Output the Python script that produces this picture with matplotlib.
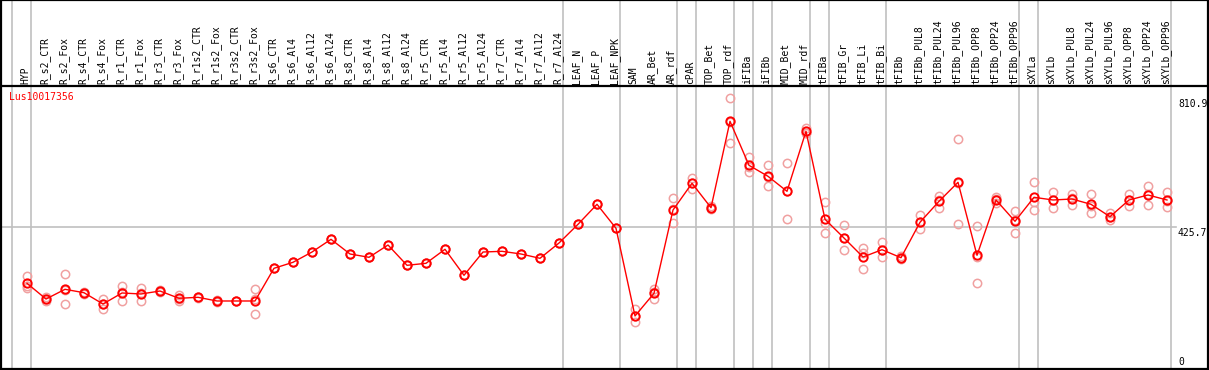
import numpy as np
import matplotlib
matplotlib.use("Agg")
import matplotlib.pyplot as plt
import matplotlib.transforms as mtransforms

# ---------------- data ----------------
gene = "Lus10017356"
samples = ["HYP", "R_s2_CTR", "R_s2_Fox", "R_s4_CTR", "R_s4_Fox", "R_r1_CTR", "R_r1_Fox",
           "R_r3_CTR", "R_r3_Fox", "R_r1s2_CTR", "R_r1s2_Fox", "R_r3s2_CTR", "R_r3s2_Fox",
           "R_s6_CTR", "R_s6_Al4", "R_s6_Al12", "R_s6_Al24", "R_s8_CTR", "R_s8_Al4",
           "R_s8_Al12", "R_s8_Al24", "R_r5_CTR", "R_r5_Al4", "R_r5_Al12", "R_r5_Al24",
           "R_r7_CTR", "R_r7_Al4", "R_r7_Al12", "R_r7_Al24", "LEAF_N", "LEAF_P", "LEAF_NPK",
           "SAM", "AR_Bet", "AR_rdf", "cPAR", "TOP_Bet", "TOP_rdf", "iFIBa", "iFIBb",
           "MID_Bet", "MID_rdf", "tFIBa", "tFIB_Gr", "tFIB_Li", "tFIB_Bi", "tFIBb",
           "tFIBb_PUL8", "tFIBb_PUL24", "tFIBb_PUL96", "tFIBb_OPP8", "tFIBb_OPP24",
           "tFIBb_OPP96", "sXYLa", "sXYLb", "sXYLb_PUL8", "sXYLb_PUL24", "sXYLb_PUL96",
           "sXYLb_OPP8", "sXYLb_OPP24", "sXYLb_OPP96"]
group_sizes = [1, 28, 3, 3, 1, 2, 1, 1, 2, 1, 3, 7, 1, 7]

means = [258.8, 211.9, 240.9, 230.7, 197.0, 229.9, 226.9, 235.8, 214.0, 217.0,
         206.0, 206.0, 206.0, 303.6, 321.5, 352.2, 390.1, 346.3, 336.4, 373.1,
         312.5, 318.5, 360.3, 282.7, 352.2, 354.3, 346.3, 333.4, 379.1, 434.9,
         494.6, 423.0, 161.2, 229.0, 477.6, 557.3, 484.5, 742.4, 611.0, 578.2,
         533.4, 712.5, 449.9, 394.0, 337.3, 359.1, 335.2, 440.9, 503.6, 560.3,
         342.4, 507.5, 443.9, 515.5, 507.5, 510.4, 494.6, 457.6, 507.5, 522.4,
         507.5]

rep1 = [280.6, 218.0, 286.6, 233.0, 211.9, 250.7, 244.8, 238.0, 223.0, 219.0,
        208.0, 207.0, 240.9, 303.6, 321.5, 352.2, 390.1, 346.3, 336.4, 373.1,
        312.5, 318.5, 360.3, 282.7, 352.2, 354.3, 346.3, 333.4, 379.1, 434.9,
        494.6, 423.0, 181.2, 240.9, 512.5, 572.2, 480.0, 810.9, 635.8, 611.0,
        617.0, 723.3, 500.6, 431.9, 363.3, 381.2, 339.0, 461.8, 519.4, 688.7,
        429.9, 515.5, 474.6, 560.3, 531.3, 525.4, 525.4, 467.8, 525.4, 549.3,
        531.3]
rep2 = [250.7, 211.0, 197.0, 228.0, 181.2, 206.9, 205.1, 234.0, 212.0, 215.0,
        204.0, 205.0, 166.3, 303.6, 321.5, 352.2, 390.1, 346.3, 336.4, 373.1,
        312.5, 318.5, 360.3, 282.7, 352.2, 354.3, 346.3, 333.4, 379.1, 434.9,
        494.6, 423.0, 142.4, 211.9, 439.7, 541.2, 489.0, 676.7, 590.1, 548.4,
        449.9, 706.6, 439.7, 357.3, 300.6, 338.2, 332.0, 420.0, 484.5, 434.9,
        258.8, 497.6, 409.9, 502.4, 482.7, 491.6, 467.8, 447.8, 489.6, 491.6,
        485.7]
rep3 = [244.8, 207.0, 239.1, 231.0, 197.9, 232.0, 230.8, 235.0, 207.0, 217.0,
        206.0, 206.0, 210.8, 303.6, 321.5, 352.2, 390.1, 346.3, 336.4, 373.1,
        312.5, 318.5, 360.3, 282.7, 352.2, 354.3, 346.3, 333.4, 379.1, 434.9,
        494.6, 423.0, 160.0, 234.0, 480.6, 558.5, 484.0, 739.6, 607.0, 575.2,
        533.3, 707.7, 409.9, 392.9, 348.0, 358.0, 335.0, 441.0, 506.9, 557.3,
        338.5, 509.4, 447.2, 476.7, 508.5, 514.2, 490.6, 457.2, 507.5, 526.3,
        505.5]

ytick_vals = [0, 425.7, 810.9]
ytick_labels = ["0", "425.7", "810.9"]

# ---------------- layout ----------------
W, H = 1209, 370
fig = plt.figure(figsize=(W / 100, H / 100), dpi=100)
ax = fig.add_axes([0, 0, 1, 1])
ax.set_axis_off()

px_per_col = 19.0
x0_px = 27.0
px_per_unit = 0.335
ax.set_xlim(-x0_px / px_per_col, (W - x0_px) / px_per_col)
ax.set_ylim(0, H / px_per_unit)

n = len(samples)
x = np.arange(n)

mono = "DejaVu Sans Mono"
hdr_frac = 1 - 85.5 / H
bt = mtransforms.blended_transform_factory(ax.transData, ax.transAxes)

# frame
frame_kw = dict(color="black", lw=1.6, transform=ax.transAxes, clip_on=False)
ax.plot([0.001, 0.999], [hdr_frac, hdr_frac], **frame_kw, zorder=5)
ax.plot([0.001, 0.001], [0, 1], **frame_kw, zorder=5)
ax.plot([0.999, 0.999], [0, 1], **frame_kw, zorder=5)
ax.plot([0.001, 0.999], [0.999, 0.999], **frame_kw, zorder=5)
ax.plot([0.001, 0.999], [0.002, 0.002], **frame_kw, zorder=5)

# group separators
bounds = np.concatenate([[0], np.cumsum(group_sizes)]) - 1 + 0.2
for b in bounds:
    ax.plot([b, b], [0, 1], color="#c0c0c0", lw=1.2, transform=bt, zorder=1)

# horizontal reference line at middle tick
ax.plot([ax.get_xlim()[0], (1176 - x0_px) / px_per_col], [ytick_vals[1]] * 2,
        color="#c0c0c0", lw=1.2, zorder=1)

# column labels
for xi, s in zip(x, samples):
    ax.text(xi - 0.08, 1 - 84 / H, s, rotation=90, ha="center", va="bottom",
            fontsize=7, family=mono, transform=bt)

# y labels on the right
lab_x = (1178 - x0_px) / px_per_col
for v, lab in zip(ytick_vals, ytick_labels):
    if v == 0:
        off = mtransforms.offset_copy(ax.transData, fig=fig, x=0, y=3, units="dots")
        ax.text(lab_x, v, lab, ha="left", va="bottom", fontsize=7, family=mono, transform=off)
    else:
        off = mtransforms.offset_copy(ax.transData, fig=fig, x=0, y=-1, units="dots")
        ax.text(lab_x, v, lab, ha="left", va="top", fontsize=7, family=mono, transform=off)

# gene name
ax.text((9 - x0_px) / px_per_col, 1 - 97 / H, gene, color="red", fontsize=7,
        family=mono, ha="left", va="center", transform=bt)

# replicates
for reps in (rep1, rep2, rep3):
    ax.plot(x, reps, ls="none", marker="o", ms=6, mfc="none", mec="#f0a0a0",
            mew=1.1, zorder=2)

# mean line + markers
ax.plot(x, means, color="red", lw=1.0, marker="o", ms=6, mfc="none", mec="red",
        mew=1.4, zorder=3)

fig.savefig("out.png", dpi=100)
